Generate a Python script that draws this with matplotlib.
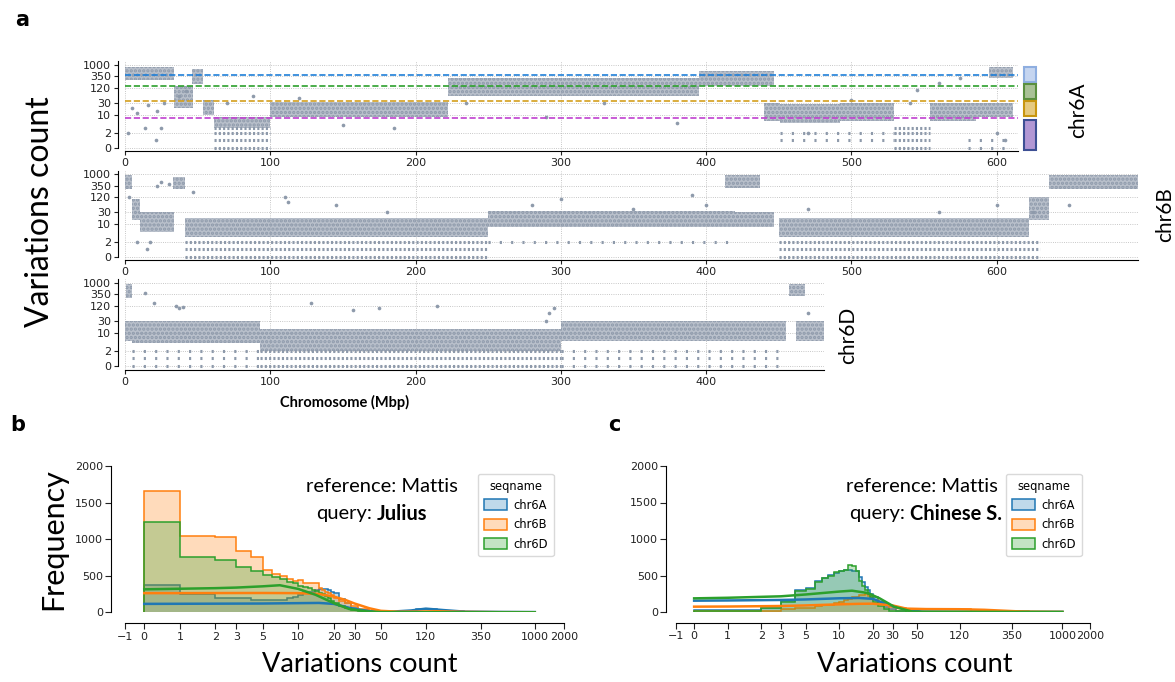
import matplotlib
matplotlib.use('Agg')
import matplotlib.pyplot as plt
import numpy as np
from matplotlib.patches import Rectangle, Patch

W, H = 1175, 682

# ---------------- data: panel a (variation counts along chromosomes) ----------------
chrom_len = {'chr6A': 615, 'chr6B': 697, 'chr6D': 481}

# dense clouds of points: (start Mbp, end Mbp, low count, high count)
bands = {
    'chr6A': [(0, 34, 250, 800), (34, 47, 20, 150), (46, 54, 180, 700), (54, 61, 10, 40),
              (61, 100, 3, 8), (100, 222, 8, 32), (222, 395, 60, 300), (395, 447, 150, 600),
              (440, 451, 6, 30), (451, 492, 5, 28), (492, 529, 6, 30), (554, 586, 6, 30),
              (586, 611, 8, 30), (595, 611, 300, 800)],
    'chr6B': [(0, 5, 250, 900), (5, 10, 15, 100), (10, 34, 5, 30), (33, 41, 250, 800),
              (41, 250, 3, 18), (250, 420, 8, 35), (413, 437, 280, 900), (420, 447, 8, 30),
              (450, 622, 3, 18), (622, 636, 15, 120), (636, 697, 250, 900)],
    'chr6D': [(0, 5, 5, 30), (1, 5, 250, 900), (5, 93, 4, 30), (93, 300, 2, 15),
              (300, 455, 5, 30), (457, 468, 300, 900), (462, 481, 5, 30)],
}

# rows of discrete low counts: (start Mbp, end Mbp, count, dense)
rows = {
    'chr6A': [(61, 100, 0, 1), (61, 100, 1, 1), (61, 100, 2, 1), (61, 100, 3, 1),
              (529, 554, 0, 1), (529, 554, 1, 1), (529, 554, 2, 1), (529, 554, 3, 1),
              (451, 529, 1, 0), (451, 529, 2, 0), (580, 611, 0, 0), (580, 611, 1, 0)],
    'chr6B': [(41, 250, 0, 1), (41, 250, 1, 1), (41, 250, 2, 1),
              (450, 630, 0, 1), (450, 630, 1, 1), (450, 630, 2, 1), (250, 420, 2, 0)],
    'chr6D': [(5, 93, 0, 0), (5, 93, 1, 0), (5, 93, 2, 0),
              (93, 300, 0, 1), (93, 300, 1, 1), (93, 300, 2, 1),
              (300, 455, 0, 0), (300, 455, 1, 0), (300, 455, 2, 0)],
}

spots_x = {
    'chr6A': [2, 5, 8, 14, 16, 21, 22, 25, 27, 37, 42, 70, 88, 120, 150, 185, 235, 290, 330,
              380, 470, 500, 540, 545, 560, 575, 600, 606],
    'chr6B': [3, 8, 15, 17, 22, 25, 30, 47, 110, 112, 145, 180, 280, 300, 350, 390, 400, 470,
              560, 600, 625, 650],
    'chr6D': [14, 20, 35, 37, 40, 128, 157, 175, 215, 290, 292, 295, 470],
}
spots_y = {
    'chr6A': [2, 20, 12, 3, 25, 1, 15, 3, 30, 60, 90, 30, 60, 50, 4, 3, 30, 8, 30, 5, 2, 40,
              30, 100, 200, 300, 2, 1],
    'chr6B': [120, 2, 1, 2, 350, 500, 400, 200, 120, 80, 60, 30, 60, 100, 40, 150, 60, 40, 30,
              60, 30, 60],
    'chr6D': [400, 150, 120, 100, 110, 150, 80, 100, 120, 30, 60, 100, 60],
}

cluster_levels = [390, 140, 35, 7.5]
cluster_ranges = [(215, 800), (42, 180), (8.9, 36), (-0.5, 6.5)]

ytick_vals = [0, 2, 10, 30, 120, 350, 1000]

# ---------------- data: panels b and c (histograms + kde) ----------------
edges = list(range(0, 21)) + [22, 25, 28, 32, 40, 50, 70, 100, 150, 250, 500, 1000]
seqnames = ['chr6A', 'chr6B', 'chr6D']

hist_b = {
    'chr6A': [373, 246, 191, 191, 168, 168, 168, 168, 190, 205, 240, 282, 282, 282, 300, 314,
              314, 314, 300, 280, 260, 180, 123, 60, 25, 10, 8, 10, 40, 12, 4, 2],
    'chr6B': [1662, 1047, 1025, 842, 752, 578, 519, 490, 451, 430, 441, 405, 405, 405, 405,
              328, 300, 280, 260, 236, 200, 160, 123, 80, 40, 15, 8, 5, 10, 6, 3, 2],
    'chr6D': [1230, 752, 715, 615, 569, 510, 480, 451, 420, 396, 360, 342, 330, 310, 290, 270,
              250, 220, 190, 160, 123, 90, 55, 30, 12, 5, 2, 2, 2, 1, 1, 0],
}
hist_c = {
    'chr6A': [30, 25, 60, 150, 300, 330, 420, 470, 510, 540, 560, 570, 580, 560, 560, 480,
              410, 340, 300, 250, 200, 140, 70, 40, 20, 10, 5, 3, 3, 2, 1, 1],
    'chr6B': [10, 15, 20, 40, 50, 60, 80, 90, 100, 120, 140, 160, 180, 200, 210, 230, 230,
              240, 220, 200, 160, 120, 90, 70, 50, 40, 40, 35, 35, 20, 8, 2],
    'chr6D': [20, 20, 50, 140, 290, 320, 410, 460, 500, 550, 560, 580, 640, 630, 560, 430,
              350, 300, 250, 200, 140, 80, 40, 20, 8, 4, 2, 1, 1, 1, 0, 0],
}

kde_b_x = {
    'chr6A': [0, 2, 5, 10, 15, 20, 28, 40, 60, 90, 120, 170, 250, 500, 1000],
    'chr6B': [0, 1, 2, 5, 10, 15, 20, 25, 30, 40, 50, 70, 100, 150, 250, 500, 1000],
    'chr6D': [0, 1, 2, 3, 5, 7, 10, 14, 20, 27, 38, 50, 100, 1000],
}
kde_b_y = {
    'chr6A': [115, 118, 120, 125, 128, 115, 55, 15, 8, 25, 50, 30, 10, 5, 3],
    'chr6B': [262, 262, 263, 264, 262, 250, 215, 170, 120, 55, 20, 8, 10, 14, 6, 2, 1],
    'chr6D': [314, 322, 330, 338, 355, 370, 320, 240, 125, 45, 12, 3, 1, 0],
}
kde_c_x = {
    'chr6A': [0, 1, 3, 5, 10, 15, 20, 25, 30, 40, 55, 100, 1000],
    'chr6B': [0, 1, 3, 5, 10, 15, 20, 30, 40, 60, 120, 200, 450, 1000],
    'chr6D': [0, 1, 3, 5, 10, 13, 18, 23, 31, 45, 60, 1000],
}
kde_c_y = {
    'chr6A': [155, 158, 165, 172, 188, 192, 180, 123, 80, 32, 5, 3, 2],
    'chr6B': [73, 75, 82, 90, 105, 112, 114, 90, 46, 40, 38, 30, 5, 1],
    'chr6D': [187, 195, 215, 240, 280, 292, 260, 187, 73, 5, 2, 0],
}

hist_ticks = [-1, 0, 1, 2, 3, 5, 10, 20, 30, 50, 120, 350, 1000, 2000]
colors = {'chr6A': '#1f77b4', 'chr6B': '#ff7f0e', 'chr6D': '#2ca02c'}


# counts axis: linear below 1, log2 above
def fwd(x):
    x = np.asarray(x, dtype=float)
    top = 1 + np.log2(1000)
    out = np.where(x < 0, 0.54 * x, x)
    out = np.where(x > 1, 1 + np.log2(np.clip(x, 1, 1000)), out)
    out = np.where(x > 1000, top + 0.82 * np.log2(np.clip(x, 1000, None) / 1000), out)
    return out


def inv(u):
    u = np.asarray(u, dtype=float)
    top = 1 + np.log2(1000)
    out = np.where(u < 0, u / 0.54, u)
    out = np.where(u > 1, 2 ** (np.clip(u, 1, top) - 1), out)
    out = np.where(u > top, 1000 * 2 ** ((np.clip(u, top, 60) - top) / 0.82), out)
    return out


def ax_px(fig, left, top, right, bottom):
    return fig.add_axes([left / W, 1 - bottom / H, (right - left) / W, (bottom - top) / H])


plt.rcParams['hatch.linewidth'] = 1.6
fig = plt.figure(figsize=(W / 100, H / 100), dpi=100)
lab_font = ['Lato', 'DejaVu Sans']
dot_col = '#8e9aab'

# ---------------- panel a ----------------
frames = {'chr6A': (125, 61.4, 151.4), 'chr6B': (125, 170.7, 260.4), 'chr6D': (125, 278.9, 369.8)}
for name, (l, t, b) in frames.items():
    r = l + chrom_len[name] * 1.4528
    ax = ax_px(fig, l, t, r, b)
    ax.set_yscale('function', functions=(fwd, inv))
    ax.set_xlim(0, chrom_len[name])
    ax.set_ylim(-0.93, 1500)
    for s, e, lo, hi in bands[name]:
        ax.fill_between([s, e], lo, hi, facecolor=(0.6, 0.64, 0.7, 0.68), edgecolor=dot_col,
                        hatch='....', lw=0, zorder=2)
    for s, e, lev, dense in rows[name]:
        ax.hlines(lev, s, e, color=dot_col, lw=2.2,
                  linestyle=(0, (0.7, 0.7)) if dense else (0, (0.7, 3.0)), zorder=2)
    ax.scatter(spots_x[name], spots_y[name], s=7, color=dot_col, lw=0, zorder=2)
    ax.set_yticks(ytick_vals)
    ax.set_yticklabels([str(v) for v in ytick_vals])
    ax.set_xticks(range(0, chrom_len[name] + 1, 100))
    ax.grid(True, ls=':', lw=0.6, color='#b5b5b5', zorder=0)
    ax.tick_params(labelsize=8, length=3, width=0.8, colors='#222222', pad=2)
    for sp in ['top', 'right']:
        ax.spines[sp].set_visible(False)
    ax.spines['left'].set_position(('outward', 5))
    ax.spines['left'].set_bounds(0, 1500)
    ax.set_axisbelow(True)
    if name == 'chr6A':
        lc = ['#1f7fd8', '#2ca02c', '#d4a01e', '#c040d0']
        fc = ['#c5d5f0', '#a9c196', '#e6ca80', '#b297d4']
        ec = ['#8eaee0', '#5a8f3e', '#c8960f', '#3d4f94']
        for i, lev in enumerate(cluster_levels):
            ax.axhline(lev, color=lc[i], ls='--', lw=1.2, zorder=3)
            lo, hi = cluster_ranges[i]
            ax.add_patch(Rectangle((1.006, lo), 0.014, hi - lo, transform=ax.get_yaxis_transform(),
                                   facecolor=fc[i], edgecolor=ec[i], lw=1.5, clip_on=False))

fig.text(1078 / W, 1 - 110 / H, 'chr6A', rotation=90, ha='center', va='center', fontsize=15, family=lab_font)
fig.text(1165 / W, 1 - 215 / H, 'chr6B', rotation=90, ha='center', va='center', fontsize=15, family=lab_font)
fig.text(848 / W, 1 - 335 / H, 'chr6D', rotation=90, ha='center', va='center', fontsize=15, family=lab_font)
fig.text(40 / W, 1 - 212 / H, 'Variations count', rotation=90, ha='center', va='center', fontsize=23, family=lab_font)
fig.text(345 / W, 1 - 402 / H, 'Chromosome (Mbp)', ha='center', va='center', fontsize=10.5,
         fontweight='bold', family=lab_font)

# ---------------- panels b and c ----------------
panels = [
    (hist_b, kde_b_x, kde_b_y, (125, 466, 564, 612.3), 10, 'Julius', 382, 372, 472, 360),
    (hist_c, kde_c_x, kde_c_y, (676, 466, 1090, 612.0), 7, 'Chinese S.', 922, 905, 1000, 915),
]
for hist, kx, ky, (l, t, r, b), off, query, cx, qx, legx, labx in panels:
    ax = ax_px(fig, l, t, r, b)
    ax.set_xscale('function', functions=(fwd, inv))
    for name in seqnames:
        c = colors[name]
        ax.stairs(hist[name], edges, fill=True, color=c, alpha=0.28, lw=0)
        ax.stairs(hist[name], edges, baseline=0, fill=False, color=c, lw=1.1)
        ax.plot(kx[name], ky[name], color=c, lw=1.8)
    ax.set_xlim(-1, 2000)
    ax.set_ylim(0, 2000)
    ax.set_xticks(hist_ticks)
    ax.set_xticklabels([str(v).replace('-', '\u2212') for v in hist_ticks])
    ax.set_yticks([0, 500, 1000, 1500, 2000])
    ax.tick_params(labelsize=8, length=4, width=0.8, colors='#222222', pad=2)
    for sp in ['top', 'right']:
        ax.spines[sp].set_visible(False)
    ax.spines['left'].set_position(('outward', off))
    ax.spines['bottom'].set_position(('outward', 8))
    fig.text(labx / W, 1 - 665 / H, 'Variations count', ha='center', va='center',
             fontsize=19.5, family=lab_font)
    fig.text(cx / W, 1 - 487 / H, 'reference: Mattis', ha='center', va='center', fontsize=14.5, family=lab_font)
    fig.text(qx / W, 1 - 514 / H, 'query:', ha='right', va='center', fontsize=14.5, family=lab_font)
    fig.text((qx + 5) / W, 1 - 514 / H, query, ha='left', va='center', fontsize=14.5,
             fontweight='bold', family=lab_font)
    handles = [Patch(facecolor=matplotlib.colors.to_rgba(colors[n], 0.28), edgecolor=colors[n], lw=1.1)
               for n in seqnames]
    leg = fig.legend(handles, seqnames, title='seqname', loc='upper left',
                     bbox_to_anchor=(legx / W, 1 - 468 / H), fontsize=8.3, title_fontsize=8.3,
                     frameon=True, handlelength=2.0, handleheight=1.1, borderpad=0.5,
                     labelspacing=0.55, handletextpad=0.6)
    leg.get_frame().set_edgecolor('#d0d0d0')
    if query == 'Julius':
        ax.set_ylabel('Frequency', fontsize=22, family=lab_font, labelpad=5)

fig.text(15 / W, 1 - 20 / H, 'a', fontsize=15, fontweight='bold', ha='left', va='center')
fig.text(10 / W, 1 - 425 / H, 'b', fontsize=15, fontweight='bold', ha='left', va='center')
fig.text(608 / W, 1 - 425 / H, 'c', fontsize=15, fontweight='bold', ha='left', va='center')

plt.savefig('out.png', dpi=100)
